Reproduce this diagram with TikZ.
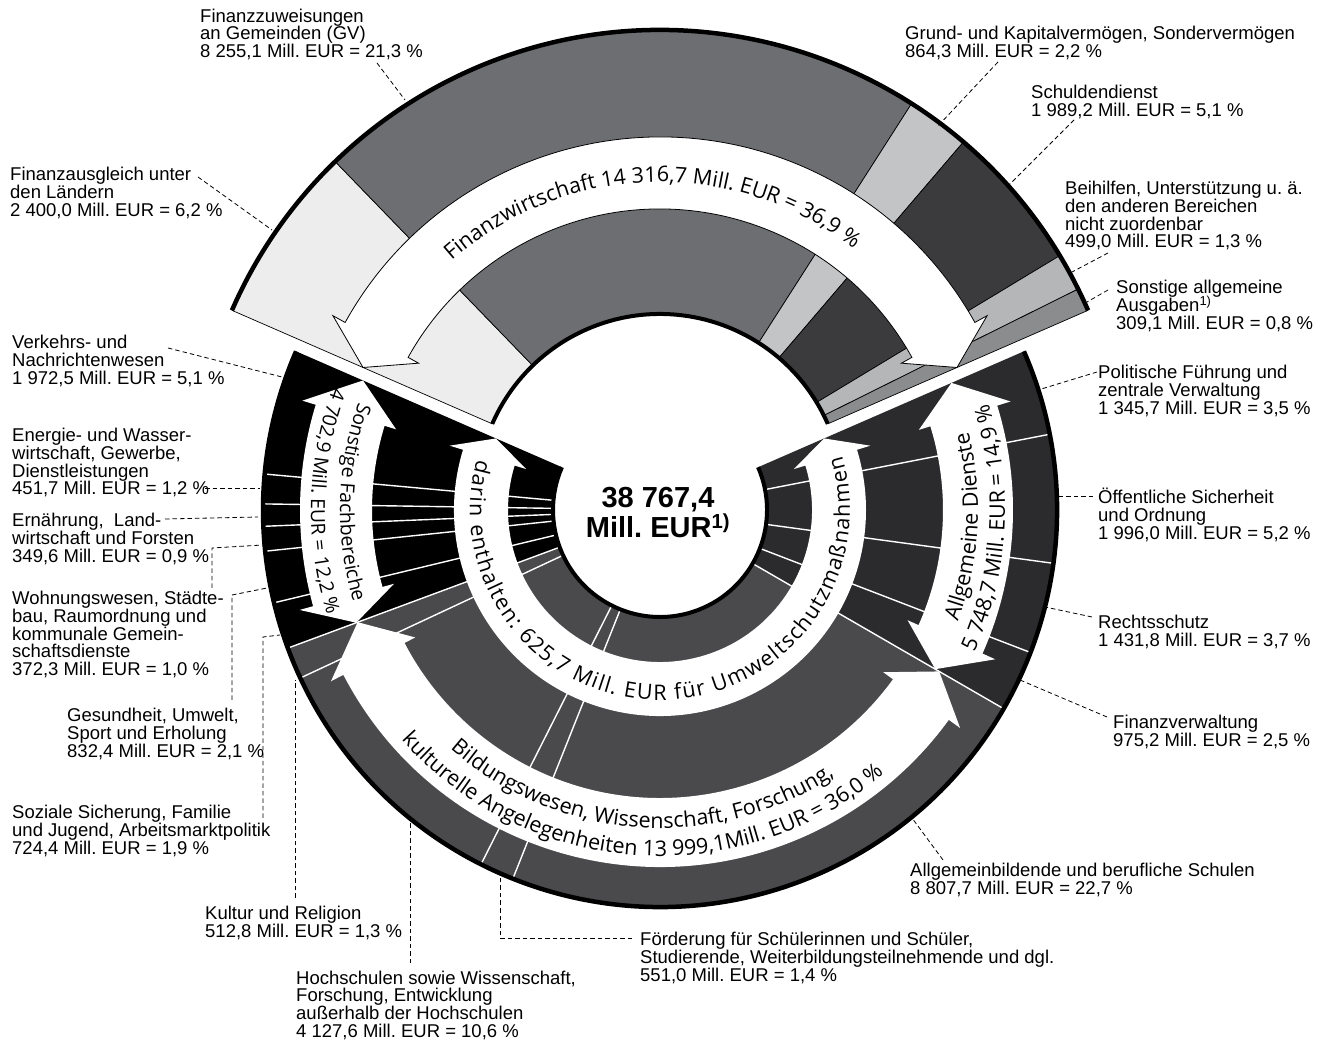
\documentclass[tikz,border=0pt]{standalone}
\usepackage{fontspec}
\setmainfont{Liberation Sans}
\newfontfamily\arrowfam{Open Sans}
\usetikzlibrary{decorations.text}
\newcommand\curfs{21.5}
\newcommand\arrowtxt{\arrowfam\fontsize{\curfs}{\curfs}\selectfont}
\newcommand\firstln{\rule{0pt}{20pt}}
\definecolor{cFA}{HTML}{ECEDEC}
\definecolor{cFZ}{HTML}{6D6E71}
\definecolor{cGK}{HTML}{C3C4C6}
\definecolor{cSD}{HTML}{3B3B3D}
\definecolor{cBH}{HTML}{B5B6B8}
\definecolor{cSA}{HTML}{8B8C8E}
\definecolor{cAD}{HTML}{2B2B2D}
\definecolor{cBW}{HTML}{4A4A4C}
% annular sector: center, a1, a2, r1, r2, style
\newcommand\ringsec[6]{\path[#6] ([shift={(#2:#4)}]#1) arc[start angle=#2,end angle=#3,radius=#4] -- ([shift={(#3:#5)}]#1) arc[start angle=#3,end angle=#2,radius=#5] -- cycle;}
% double headed curved arrow: center, base1, base2, tip1, tip2, rin, rout, style
\newcommand\dblarrow[8]{%
 \pgfmathsetmacro\arwi{#6-12}\pgfmathsetmacro\arwo{#7+14}\pgfmathsetmacro\arrm{(#6+#7)/2}%
 \path[#8] ([shift={(#2:#7)}]#1) arc[start angle=#2,end angle=#3,radius=#7]
  -- ([shift={(#3:\arwo)}]#1) -- ([shift={(#5:\arrm)}]#1) -- ([shift={(#3:\arwi)}]#1)
  -- ([shift={(#3:#6)}]#1) arc[start angle=#3,end angle=#2,radius=#6]
  -- ([shift={(#2:\arwi)}]#1) -- ([shift={(#4:\arrm)}]#1) -- ([shift={(#2:\arwo)}]#1) -- cycle;}
% text along arc: center, a1, a2, r, align, text
\newcommand\arctext[6]{\path[decorate,decoration={text along path,text align={#5},text={|\arrowtxt|#6}}] ([shift={(#2:#4)}]#1) arc[start angle=#2,end angle=#3,radius=#4];}
\begin{document}
\frenchspacing
\begin{tikzpicture}[x=1pt,y=1pt,
 lbl/.style={anchor=north west,inner sep=0pt,align=left,font={\fontsize{18.5}{17.7}\selectfont\lineskiplimit=-50pt}},
 leader/.style={draw=black,line width=0.8pt,dash pattern=on 4.5pt off 3pt},
 sec/.style={draw=black,line width=0.7pt,line join=round}]
\fill[white] (0,0) rectangle (1320,1042);
\useasboundingbox (0,0) rectangle (1320,1042);
\coordinate (C) at (660,532);
\coordinate (U) at (660,545);

% ---------- lower ring ----------
\ringsec{C}{-30.04}{23.56}{107}{397}{fill=cAD}
\ringsec{C}{-159.64}{-30.04}{107}{397}{fill=cBW}
\ringsec{C}{-203.56}{-159.64}{107}{397}{fill=black}
\foreach \a in {11.0,-7.72,-21.04,-30.04,-111.76,-116.8,-154.96,-159.64,-166.48,-174.04,-177.64,-180.88,-185.2}
  \draw[white,line width=1.4pt] ([shift={(\a:107)}]C) -- ([shift={(\a:397)}]C);
\dblarrow{C}{163}{377}{156.44}{383.56}{152}{206}{fill=white}
\dblarrow{C}{163}{195.5}{156.44}{200.36}{288}{360}{fill=white}
\dblarrow{C}{207.5}{324}{200.36}{329.96}{288}{357}{fill=white}
\dblarrow{C}{336}{377.2}{329.96}{383.56}{283}{353}{fill=white}
\draw[line width=4.5pt] ([shift={(23.56:397)}]C) arc[start angle=23.56,end angle=-203.56,radius=397];
\draw[line width=4pt] ([shift={(23.56:107)}]C) arc[start angle=23.56,end angle=-203.56,radius=107];

% ---------- upper segment ----------
\ringsec{U}{134.08}{156.44}{183}{467}{fill=cFA,sec}
\ringsec{U}{57.4}{134.08}{183}{467}{fill=cFZ,sec}
\ringsec{U}{49.48}{57.4}{183}{467}{fill=cGK,sec}
\ringsec{U}{31.12}{49.48}{183}{467}{fill=cSD,sec}
\ringsec{U}{26.44}{31.12}{183}{467}{fill=cBH,sec}
\ringsec{U}{23.56}{26.44}{183}{467}{fill=cSA,sec}
\dblarrow{U}{151}{29}{156.44}{23.56}{288}{360}{fill=white,draw=black,line width=0.8pt,line join=miter}
\draw[line width=4.5pt] ([shift={(23.56:467)}]U) arc[start angle=23.56,end angle=156.44,radius=467];
\draw[line width=4pt] ([shift={(23.56:183)}]U) arc[start angle=23.56,end angle=156.44,radius=183];

% ---------- arrow texts ----------
\arctext{U}{161.7}{21.7}{315}{center}{Finanzwirtschaft 14 316,7 Mill. EUR = 36,9 {\%}}
\arctext{C}{164.5}{376.7}{190}{fit to path}{darin enthalten: 625,7 Mill. EUR für Umweltschutzmaßnahmen}
\arctext{C}{196}{336}{318}{center}{Bildungswesen, Wissenschaft, Forschung,}
\arctext{C}{196}{336}{346}{center}{kulturelle Angelegenheiten 13 999,1Mill. EUR = 36,0 {\%}}
\arctext{C}{311.8}{401.8}{318}{center}{Allgemeine Dienste}
\arctext{C}{311.8}{401.8}{345}{center}{5 748,7 Mill. EUR = 14,9 {\%}}
\renewcommand\curfs{19.5}
\arctext{C}{133.5}{223.5}{320}{center}{Sonstige Fachbereiche}
\arctext{C}{133.5}{223.5}{349}{center}{4 702,9 Mill. EUR = 12,2 {\%}}

% ---------- centre ----------
\node[inner sep=0pt,align=center,font={\bfseries\fontsize{29}{30}\selectfont\lineskiplimit=-50pt}] (total) at (658,529) {38 767,4\\Mill. EUR\textsuperscript{1)}};

% ---------- labels ----------
\node[lbl] (nFZ) at (200,1040) {\firstln Finanzzuweisungen\\an Gemeinden (GV)\\8 255,1 Mill. EUR = 21,3 \%};
\node[lbl] (nFA) at (10,881.5) {\firstln Finanzausgleich unter\\den Ländern\\2 400,0 Mill. EUR = 6,2 \%};
\node[lbl] (nVK) at (12,713.5) {\firstln Verkehrs- und\\Nachrichtenwesen\\1 972,5 Mill. EUR = 5,1 \%};
\node[lbl] (nEN) at (12,620.5) {\firstln Energie- und Wasser-\\wirtschaft, Gewerbe,\\Dienstleistungen\\451,7 Mill. EUR = 1,2 \%};
\node[lbl] (nER) at (12,535.5) {\firstln Ernährung,\ \ Land-\\wirtschaft und Forsten\\349,6 Mill. EUR = 0,9 \%};
\node[lbl] (nWO) at (12,457.5) {\firstln Wohnungswesen, Städte-\\bau, Raumordnung und\\kommunale Gemein-\\schaftsdienste\\372,3 Mill. EUR = 1,0 \%};
\node[lbl] (nGE) at (67,340.5) {\firstln Gesundheit, Umwelt,\\Sport und Erholung\\832,4 Mill. EUR = 2,1 \%};
\node[lbl] (nSO) at (12,243.5) {\firstln Soziale Sicherung, Familie\\und Jugend, Arbeitsmarktpolitik\\724,4 Mill. EUR = 1,9 \%};
\node[lbl] (nKU) at (205,142.5) {\firstln Kultur und Religion\\512,8 Mill. EUR = 1,3 \%};
\node[lbl] (nHO) at (296,78) {\firstln Hochschulen sowie Wissenschaft,\\Forschung, Entwicklung\\außerhalb der Hochschulen\\4 127,6 Mill. EUR = 10,6 \%};
\node[lbl] (nFO) at (640,116.5) {\firstln Förderung für Schülerinnen und Schüler,\\Studierende, Weiterbildungsteilnehmende und dgl.\\551,0 Mill. EUR = 1,4 \%};
\node[lbl] (nAS) at (910,185.5) {\firstln Allgemeinbildende und berufliche Schulen\\8 807,7 Mill. EUR = 22,7 \%};
\node[lbl] (nFV) at (1113,333.5) {\firstln Finanzverwaltung\\975,2 Mill. EUR = 2,5 \%};
\node[lbl] (nRS) at (1098,433.5) {\firstln Rechtsschutz\\1 431,8 Mill. EUR = 3,7 \%};
\node[lbl] (nOS) at (1098,558.5) {\firstln Öffentliche Sicherheit\\und Ordnung\\1 996,0 Mill. EUR = 5,2 \%};
\node[lbl] (nPF) at (1098,683.5) {\firstln Politische Führung und\\zentrale Verwaltung\\1 345,7 Mill. EUR = 3,5 \%};
\node[lbl] (nSA) at (1116,768.5) {\firstln Sonstige allgemeine\\Ausgaben\textsuperscript{1)}\\309,1 Mill. EUR = 0,8 \%};
\node[lbl] (nBH) at (1065,867.5) {\firstln Beihilfen, Unterstützung u. ä.\\den anderen Bereichen\\nicht zuordenbar\\499,0 Mill. EUR = 1,3 \%};
\node[lbl] (nSD) at (1031,963.5) {\firstln Schuldendienst\\1 989,2 Mill. EUR = 5,1 \%};
\node[lbl] (nGK) at (905,1022.5) {\firstln Grund- und Kapitalvermögen, Sondervermögen\\864,3 Mill. EUR = 2,2 \%};

% ---------- leaders ----------
\coordinate (pFZa) at (377,979);  \coordinate (pFZb) at (405,942);
\coordinate (pFAa) at (198,865);  \coordinate (pFAb) at (272,812);
\coordinate (pGKa) at (998,980);  \coordinate (pGKb) at (937,915);
\coordinate (pSDa) at (1074,922); \coordinate (pSDb) at (1009,857);
\coordinate (pBHa) at (1108,789); \coordinate (pBHb) at (1072,770);
\coordinate (pSAa) at (1108,752); \coordinate (pSAb) at (1087,740);
\coordinate (pPFa) at (1097,670); \coordinate (pPFb) at (1038,652);
\coordinate (pOSa) at (1093,546); \coordinate (pOSb) at (1057,546);
\coordinate (pRSa) at (1092,425); \coordinate (pRSb) at (1045,435);
\coordinate (pFVa) at (1107,325); \coordinate (pFVb) at (1020,362);
\coordinate (pASa) at (943,182);  \coordinate (pASb) at (912,224);
\coordinate (pFOa) at (632,104);  \coordinate (pFOm) at (500,104); \coordinate (pFOb) at (500,164);
\coordinate (pHOa) at (410,79);   \coordinate (pHOb) at (410,220);
\coordinate (pKUa) at (295,144);  \coordinate (pKUb) at (295,362);
\coordinate (pSOa) at (263,224);  \coordinate (pSOm) at (263,405); \coordinate (pSOb) at (280,407);
\coordinate (pGEa) at (232,342);  \coordinate (pGEm) at (232,447); \coordinate (pGEb) at (267,454);
\coordinate (pWOa) at (212,454);  \coordinate (pWOm) at (212,494); \coordinate (pWOb) at (263,497);
\coordinate (pERa) at (165,523);  \coordinate (pERb) at (258,525);
\coordinate (pENa) at (205,554);  \coordinate (pENb) at (260,554);
\coordinate (pVKa) at (168,694);  \coordinate (pVKb) at (282,665);
\draw[leader] (pFZa) -- (pFZb);
\draw[leader] (pFAa) -- (pFAb);
\draw[leader] (pGKa) -- (pGKb);
\draw[leader] (pSDa) -- (pSDb);
\draw[leader] (pBHa) -- (pBHb);
\draw[leader] (pSAa) -- (pSAb);
\draw[leader] (pPFa) -- (pPFb);
\draw[leader] (pOSa) -- (pOSb);
\draw[leader] (pRSa) -- (pRSb);
\draw[leader] (pFVa) -- (pFVb);
\draw[leader] (pASa) -- (pASb);
\draw[leader] (pFOa) -- (pFOm) -- (pFOb);
\draw[leader] (pHOa) -- (pHOb);
\draw[leader] (pKUa) -- (pKUb);
\draw[leader] (pSOa) -- (pSOm) -- (pSOb);
\draw[leader] (pGEa) -- (pGEm) -- (pGEb);
\draw[leader] (pWOa) -- (pWOm) -- (pWOb);
\draw[leader] (pERa) -- (pERb);
\draw[leader] (pENa) -- (pENb);
\draw[leader] (pVKa) -- (pVKb);
\end{tikzpicture}
\end{document}
